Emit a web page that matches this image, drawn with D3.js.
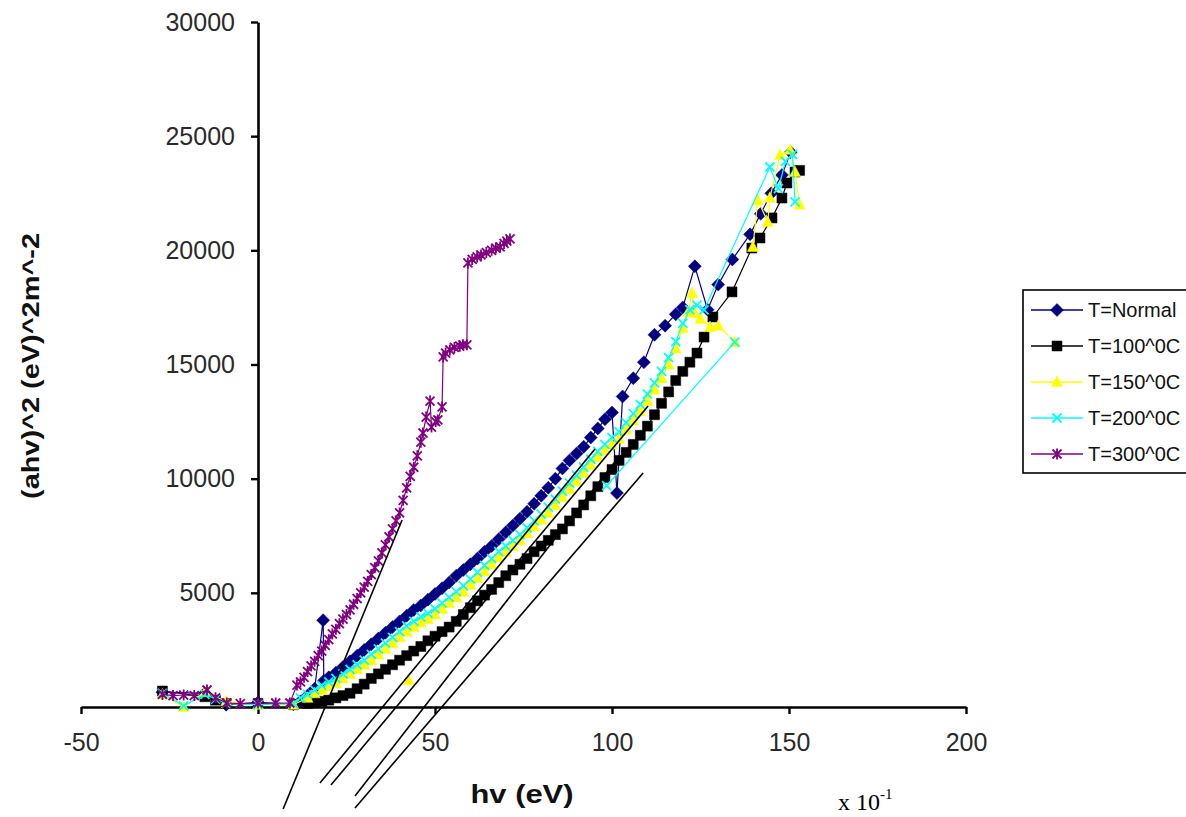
<!DOCTYPE html>
<html><head><meta charset="utf-8">
<script src="https://cdn.jsdelivr.net/npm/d3@7"></script>
<style>body{margin:0;background:#fff;} svg{display:block;font-family:"Liberation Sans",Arial,sans-serif;}</style>
</head><body><svg id="c" width="1186" height="817"></svg>
<script>
// ---------- data ----------
const seriesNames = ["T=Normal", "T=100^0C", "T=150^0C", "T=200^0C", "T=300^0C"];
const xTicks = [-50, 0, 50, 100, 150, 200];
const yTicks = [0, 5000, 10000, 15000, 20000, 25000, 30000];

const normalX = [-27,-15,-9,0,10,12,14,16,18.4,18.6,20,22,24,26,28,30,32,34,36,38,40,42,44,46,48,50,52,54,56,58,60,62,64,66,68,70,72,74,76,78,80,82,84,86,88,90,92,94,96,98,100,101.4,103,106,109,112,115,118,120,123.4,127,130,134,139,142,145,148,150.5];
const normalY = [650,600,100,200,120,250,500,800,3800,1150,1300,1500,1750,2000,2250,2500,2750,3000,3250,3500,3750,4000,4250,4450,4700,4950,5200,5450,5750,6000,6250,6500,6800,7050,7350,7650,7950,8250,8550,8900,9250,9600,10000,10450,10800,11100,11400,11800,12200,12600,12900,9370,13600,14400,15100,16300,16700,17200,17500,19300,17400,18500,19600,20700,21600,22500,23300,24300];

const t100X = [-27,-15,-12,-9,0,10,14,16,18,20,22,24,26,28,30,32,34,36,38,40,42,44,46,48,50,52,54,56,58,60,62,64,66,68,70,72,74,76,78,80,82,84,86,88,90,92,94,96,98,100,102,104,106,108,110,112,114,116,118,120,122,124,126,128.5,133.9,139.5,141.8,145.2,148,149.4,151.7,153];
const t100Y = [700,450,300,150,150,100,150,200,250,300,400,500,600,800,1000,1250,1450,1650,1850,2050,2250,2450,2650,2900,3100,3300,3500,3750,4050,4350,4650,4900,5150,5450,5750,6000,6250,6500,6800,7050,7300,7550,7800,8150,8500,8850,9250,9650,10050,10400,10800,11150,11500,11900,12300,12800,13300,13800,14300,14700,15100,15500,16200,17080,18180,20100,20540,21420,22290,22950,23430,23500];

const t150X = [-27,-21,-15,-9,0,10,14,16,18,20,22,24,26,28,30,32,34,36,38,40,42,44,46,48,50,52,54,56,58,60,62,64,66,68,70,72,74,76,78,80,82,84,86,88,90,92,94,96,98,100,102,104,106,108,110,112,114,116,118,120,121.5,122.6,123.4,125,127.7,130,134.7,null,139.8,141.2,144,144.6,147.5,150.3,151.7,153,null,42.5];
const t150Y = [550,0,650,250,100,100,400,600,750,900,1050,1250,1450,1650,1850,2050,2300,2550,2800,3050,3300,3500,3700,3850,4050,4300,4550,4800,5050,5350,5650,5950,6250,6550,6800,7050,7300,7600,7900,8200,8500,8850,9200,9550,9900,10250,10600,10950,11250,11500,11750,12150,12550,12950,13400,13900,14400,15000,15700,16600,17300,18130,17260,17000,16640,16700,15980,null,20150,22200,21240,22300,24180,24400,23430,22000,null,1180];

const t200X = [-27,-21,-15,-12,-9,0,10,12,14,16,18,20,22,24,26,28,30,32,34,36,38,40,42,44,46,48,50,52,54,56,58,60,62,64,66,68,70,72,74,76,78,80,82,84,86,88,90,92,94,96,98,100,102,104,106,108,110,112,114,116,118,120,122,124,126,144.6,147,149,151,151.7,null,98.5,134.7];
const t200Y = [600,50,550,350,150,100,150,400,550,750,950,1100,1250,1450,1650,1850,2050,2300,2550,2800,3050,3300,3550,3750,3950,4100,4300,4550,4800,5050,5300,5600,5900,6200,6500,6800,7050,7300,7550,7850,8150,8450,8750,9100,9450,9800,10150,10500,10850,11200,11500,11800,12050,12450,12850,13250,13700,14200,14700,15300,16000,16800,17400,17600,17390,23650,22700,23900,24200,22120,null,9700,15980];

const t300X = [-27,-24,-21,-18,-14.4,-12,-8.8,-5,0,5,9,11,12,13,14,15,16,17,18,19,20,21,22,23,24,25,26,27,28,29,30,31,32,33,34,35,36,37,38,39,40,41,42,43,44,45,46,46.6,47.5,48.6,49,50.2,50.8,52,52.3,53,54.2,55.5,57,57.9,59,59.3,60.5,61.9,63,64.5,66,67.2,68.4,69.5,70.3,71.2];
const t300Y = [550,500,525,500,745,400,175,150,175,175,175,960,1100,1300,1550,1800,2000,2250,2450,2700,2950,3200,3400,3650,3850,4050,4250,4500,4750,5000,5250,5500,5800,6100,6400,6750,7100,7450,7800,8150,8500,9050,9600,10100,10500,11000,11600,12000,12700,13400,12260,12500,12570,13140,15330,15500,15640,15750,15800,15860,15860,19450,19600,19710,19800,19900,20000,20100,20150,20300,20400,20500];

// hand-drawn extrapolation lines (data units)
const tangentX1 = [7.1, 17.5, 20.6, 27.4, 27.4];
const tangentY1 = [-4470, -3330, -3420, -3900, -4420];
const tangentX2 = [40.7, 95.2, 110.2, 102.3, 108.8];
const tangentY2 = [8190, 11300, 13180, 11040, 10250];

// ---------- styles ----------
const series = [
  {name: seriesNames[0], xs: normalX, ys: normalY, color: "#000080", shape: "diamond"},
  {name: seriesNames[1], xs: t100X, ys: t100Y, color: "#000000", shape: "square"},
  {name: seriesNames[2], xs: t150X, ys: t150Y, color: "#FFFF00", shape: "triangle"},
  {name: seriesNames[3], xs: t200X, ys: t200Y, color: "#00FFFF", shape: "x"},
  {name: seriesNames[4], xs: t300X, ys: t300Y, color: "#800080", shape: "star"}
];

const svg = d3.select("#c");
svg.append("rect").attr("width", 1186).attr("height", 817).attr("fill", "#fff");

const x = d3.scaleLinear().domain([-50, 200]).range([81, 966]);
const y = d3.scaleLinear().domain([0, 30000]).range([707, 22]);

function markerPath(shape) {
  switch (shape) {
    case "diamond": return "M0,-6.5L6.5,0L0,6.5L-6.5,0Z";
    case "square": return "M-5,-5H5V5H-5Z";
    case "triangle": return "M0,-6L5.5,4.5L-5.5,4.5Z";
    case "x": return "M-4.5,-4.5L4.5,4.5M-4.5,4.5L4.5,-4.5";
    case "star": return "M-4.5,-4.5L4.5,4.5M-4.5,4.5L4.5,-4.5M0,-5.5V5.5";
  }
}
function styleMarker(sel, s) {
  if (s.shape === "x" || s.shape === "star") {
    sel.attr("fill", "none").attr("stroke", s.color).attr("stroke-width", 1.8);
  } else {
    sel.attr("fill", s.color).attr("stroke", s.color).attr("stroke-width", 0.5);
  }
}

// axes
const fmt = d => String(d);
const yAxis = d3.axisLeft(y).tickValues(yTicks).tickSize(7).tickPadding(16).tickSizeOuter(0).tickFormat(d => d === 0 ? "" : fmt(d));
const gy = svg.append("g").attr("transform", `translate(${x(0)},0)`).call(yAxis);
const xAxis = d3.axisBottom(x).tickValues(xTicks).tickSize(7).tickPadding(19).tickSizeOuter(0).tickFormat(fmt);
const gx = svg.append("g").attr("transform", `translate(0,${y(0)})`).call(xAxis);
[gx, gy].forEach(g => {
  g.select(".domain").attr("stroke", "#000").attr("stroke-width", 2.6);
  g.selectAll(".tick line").attr("stroke", "#000").attr("stroke-width", 2.4);
  g.selectAll(".tick text").attr("fill", "#2a2a2a").style("font-size", "25px").style("font-family", "'Liberation Sans', Arial, sans-serif");
});

// series
const plot = svg.append("g");
series.forEach(s => {
  const pts = s.xs.map((xv, i) => ({x: xv, y: s.ys[i]}));
  const line = d3.line().defined(d => d.x != null && d.y != null).x(d => x(d.x)).y(d => y(d.y));
  plot.append("path").datum(pts).attr("d", line).attr("fill", "none")
    .attr("stroke", s.color).attr("stroke-width", 1.2);
  const m = plot.append("g").selectAll("path").data(pts.filter(d => d.x != null && d.y != null)).join("path")
    .attr("transform", d => `translate(${x(d.x)},${y(d.y)})`).attr("d", markerPath(s.shape));
  styleMarker(m, s);
});

// tangent lines
const tangents = tangentX1.map((v, i) => ({x1: v, y1: tangentY1[i], x2: tangentX2[i], y2: tangentY2[i]}));
svg.append("g").selectAll("line").data(tangents).join("line")
  .attr("x1", d => x(d.x1)).attr("y1", d => y(d.y1)).attr("x2", d => x(d.x2)).attr("y2", d => y(d.y2))
  .attr("stroke", "#000").attr("stroke-width", 1.6);

// axis titles
svg.append("text").attr("transform", "translate(39,366) rotate(-90)").attr("text-anchor", "middle")
  .attr("font-weight", "bold").attr("font-size", 24).attr("fill", "#111")
  .attr("textLength", 266).attr("lengthAdjust", "spacingAndGlyphs").text("(ahv)^2 (eV)^2m^-2");
svg.append("text").attr("x", 522).attr("y", 803).attr("text-anchor", "middle")
  .attr("font-weight", "bold").attr("font-size", 26).attr("fill", "#111")
  .attr("textLength", 103).attr("lengthAdjust", "spacingAndGlyphs").text("hv (eV)");
const xt = svg.append("text").attr("x", 838).attr("y", 810).attr("font-family", "'Liberation Serif', 'Times New Roman', serif")
  .attr("font-size", 24).attr("fill", "#000");
xt.append("tspan").text("x 10");
xt.append("tspan").attr("dy", -11).attr("font-size", 15).text("-1");

// legend
const lg = svg.append("g");
lg.append("rect").attr("x", 1023).attr("y", 290).attr("width", 180).attr("height", 183)
  .attr("fill", "#fff").attr("stroke", "#000").attr("stroke-width", 1.6);
const legY = d3.scalePoint().domain(seriesNames).range([310, 454]);
series.forEach(s => {
  const yy = legY(s.name);
  lg.append("line").attr("x1", 1031).attr("x2", 1083).attr("y1", yy).attr("y2", yy)
    .attr("stroke", s.color).attr("stroke-width", 1.4);
  const m = lg.append("path").attr("transform", `translate(1057,${yy})`).attr("d", markerPath(s.shape));
  styleMarker(m, s);
  lg.append("text").attr("x", 1088).attr("y", yy + 7).attr("font-size", 20).attr("fill", "#111").text(s.name);
});
</script></body></html>
